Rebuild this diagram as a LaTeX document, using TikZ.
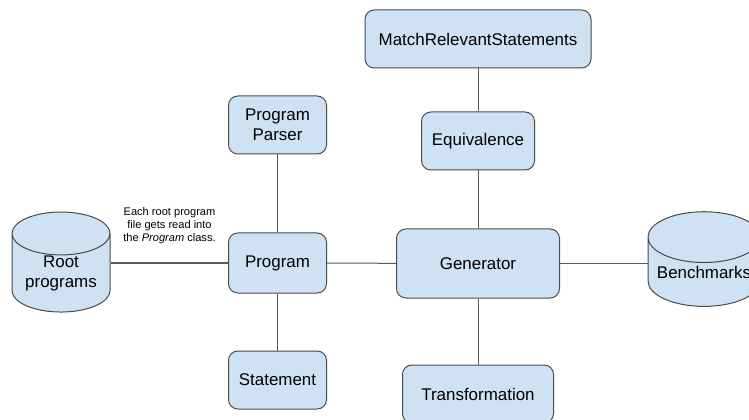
\documentclass[tikz,border=0pt]{standalone}
\usepackage{fontspec}
\setmainfont{Liberation Sans}
\usetikzlibrary{shapes.geometric,positioning}
\definecolor{boxblue}{HTML}{CFE2F3}
\definecolor{edgegray}{HTML}{4A4A4A}
\definecolor{linegray}{HTML}{595959}
\tikzset{
	x=0.75pt, y=-0.75pt, % one unit is one pixel of the layout
	every node/.style={font=\fontsize{12.7}{15}\selectfont, align=center, inner sep=0pt},
	module/.style={draw=edgegray, fill=boxblue, line width=0.75pt, rounded corners=7pt, minimum height=43.5pt}, % the class boxes
	store/.style={cylinder, shape border rotate=90, draw=edgegray, fill=boxblue, line width=0.75pt, minimum height=71pt}, % the data stores
	link/.style={draw=linegray, line width=0.75pt}, % plain connectors
	note/.style={font=\fontsize{8.3}{9.8}\selectfont}, % small remarks
}
\begin{document}
\begin{tikzpicture}
	\useasboundingbox (0,0) rectangle (749,420);
	
	\node[module, minimum width=169.5pt] (match) at (478,39) {MatchRelevantStatements};
	\node[module, minimum width=84.75pt] (equiv) at (478,141) {Equivalence};
	\node[module, minimum width=73.5pt] (parser) at (277.5,125) {Program\\Parser};
	\node[module, minimum width=73.5pt, minimum height=45pt] (program) at (277.5,263) {Program};
	\node[module, minimum width=122.25pt, minimum height=51.75pt] (generator) at (478,263.5) {Generator};
	\node[module, minimum width=73.5pt] (statement) at (277.5,380) {Statement};
	\node[module, minimum width=113.25pt] (transform) at (478,394) {Transformation};
	\node[store, aspect=0.6, minimum width=73.5pt] (root) at (61,273) {Root\\programs};
	\node[store, aspect=0.54, minimum width=84pt] (bench) at (704,272) {Benchmarks};
	
	\node[note] (readnote) at (169.5,226) {Each root program\\file gets read into\\the \textit{Program} class.};
	
	\draw[link] (root.east |- program) -- (program);
	\draw[link] (program) -- (generator);
	\draw[link] (generator) -- (bench.west |- generator);
	\draw[link] (parser) -- (program);
	\draw[link] (program) -- (statement);
	\draw[link] (match) -- (equiv);
	\draw[link] (equiv) -- (generator);
	\draw[link] (generator) -- (transform);
\end{tikzpicture}
\end{document}
